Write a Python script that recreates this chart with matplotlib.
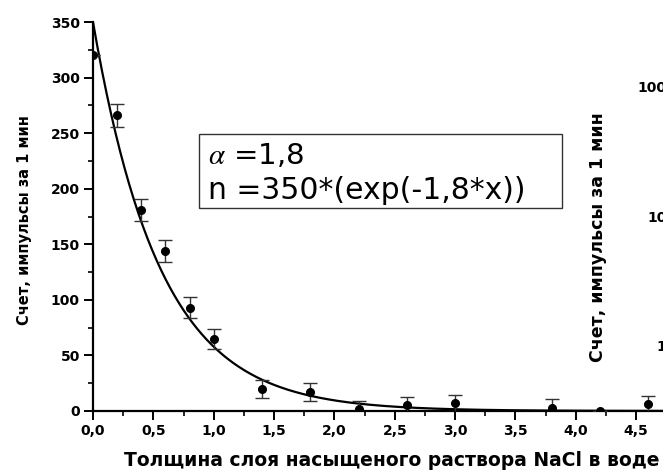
import matplotlib

matplotlib.use("Agg")
import matplotlib.pyplot as plt
import numpy as np
from matplotlib.patches import Rectangle
from matplotlib.ticker import FuncFormatter, MultipleLocator

# измеренные точки: толщина слоя (условные единицы) и счёт за минуту
thickness = [0.0, 0.2, 0.4, 0.6, 0.8, 1.0, 1.4, 1.8, 2.2, 2.6, 3.0, 3.8, 4.2, 4.6]
counts = [320, 266, 181, 144, 93, 65, 20, 17, 2, 5, 7, 3, 0, 6]
count_err = [0, 10.5, 10, 10, 9.5, 9, 8, 8, 7, 8, 7.5, 8, 0, 7.5]

# параметры аппроксимации n = n0 * exp(-alpha * x)
n0 = 350
alpha = 1.8

ylabel = "Счет, импульсы за 1 мин"
xlabel = "Толщина слоя насыщеного раствора NaCl в воде"
log_ticks = ["1000", "100", "10"]

plt.rcParams["font.family"] = ["DejaVu Sans"]
plt.rcParams["mathtext.fontset"] = "stix"

W, H = 663, 471
fig = plt.figure(figsize=(W / 100, H / 100), dpi=100)
ax = fig.add_axes([93 / W, 60 / H, 603.5 / W, 389 / H])

x_fit = np.linspace(0, 5, 400)
ax.plot(x_fit, n0 * np.exp(-alpha * x_fit), color="black", lw=1.6, zorder=3)

ax.errorbar(
    thickness,
    counts,
    yerr=count_err,
    fmt="o",
    color="black",
    ms=5.5,
    ecolor="#333333",
    elinewidth=1.0,
    capsize=4.8,
    capthick=1.0,
    zorder=4,
)

ax.set_xlim(0, 5)
ax.set_ylim(0, 350)
ax.xaxis.set_major_locator(MultipleLocator(0.5))
ax.xaxis.set_minor_locator(MultipleLocator(0.25))
ax.yaxis.set_major_locator(MultipleLocator(50))
ax.yaxis.set_minor_locator(MultipleLocator(25))
ax.xaxis.set_major_formatter(FuncFormatter(lambda v, _: f"{v:.1f}".replace(".", ",")))

for side in ("top", "right"):
    ax.spines[side].set_visible(False)
for side in ("left", "bottom"):
    ax.spines[side].set_linewidth(1.6)

ax.tick_params(which="major", direction="out", length=6.5, width=1.4,
               labelsize=10, pad=3)
ax.tick_params(which="minor", direction="out", length=3.5, width=1.2)
for lab in ax.get_xticklabels() + ax.get_yticklabels():
    lab.set_fontweight("bold")

ax.set_ylabel(ylabel, fontsize=10.5, fontweight="bold")
ax.yaxis.set_label_coords(-(93 - 32) / 603.5, (411 - 220) / 389)
ax.set_xlabel(xlabel, fontsize=13.5, fontweight="bold", ha="left")
ax.xaxis.set_label_coords((124 - 93) / 603.5, -(451 - 411) / 389)

# рамка с формулой
ax.add_patch(Rectangle((0.878, 182.7), 3.008, 66.3, fill=False,
                       ec="#333333", lw=1.0, zorder=2))
ax.text(0.95, 229, r"$\alpha$ =1,8", fontsize=21, va="center", ha="left")
ax.text(0.95, 198, "n =350*(exp(-1,8*x))", fontsize=21.5, va="center", ha="left")

# подписи соседнего графика с логарифмической шкалой
fig.text(598 / W, 1 - 237 / H, ylabel, rotation=90, fontsize=12.5,
         fontweight="bold", ha="center", va="center")
for lab, yp in zip(log_ticks, [88, 218, 347]):
    fig.text(676 / W, 1 - yp / H, lab, fontsize=10, fontweight="bold",
             ha="right", va="center")

fig.savefig("out.png", dpi=100)
